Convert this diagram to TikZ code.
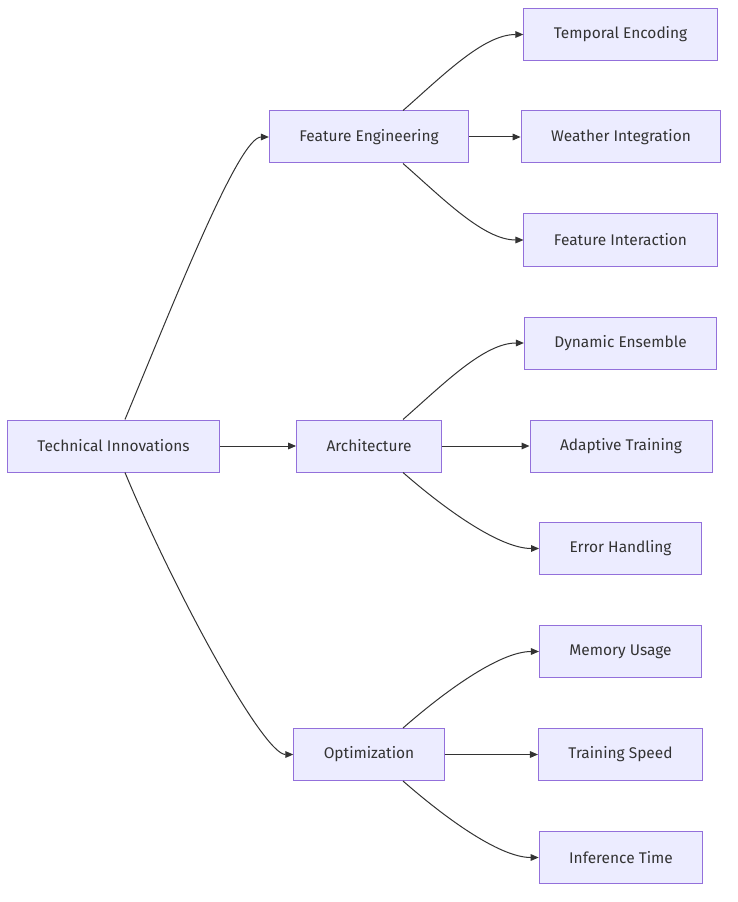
\documentclass[tikz,border=0pt]{standalone}
\usepackage{fontspec}
\setmainfont{Fira Sans}
\usetikzlibrary{arrows.meta}
\definecolor{boxfill}{HTML}{ECECFF}
\definecolor{boxline}{HTML}{9370DB}
\definecolor{linkc}{HTML}{333333}
\begin{document}
\begin{tikzpicture}[x=0.75pt,y=-0.75pt,>={Stealth[length=6pt,width=5pt,inset=0pt]},
	box/.style={draw=boxline,fill=boxfill,line width=0.75pt,minimum height=39pt,inner xsep=22.5pt,font=\fontsize{11.6}{14}\selectfont,text=linkc},
	link/.style={->,draw=linkc,line width=0.75pt}]
	\useasboundingbox (0,0) rectangle (738,902);
	% root and middle level
	\node[box] (root) at (113.5,446) {Technical Innovations};
	\node[box] (fe) at (369,137) {Feature Engineering};
	\node[box] (arch) at (369,446) {Architecture};
	\node[box] (opt) at (369,754.5) {Optimization};
	% leaves
	\node[box] (te) at (620.5,34.5) {Temporal Encoding};
	\node[box] (wi) at (621,137) {Weather Integration};
	\node[box] (fi) at (620.5,240) {Feature Interaction};
	\node[box] (de) at (620.5,343) {Dynamic Ensemble};
	\node[box] (at) at (621,446) {Adaptive Training};
	\node[box] (eh) at (620.5,548.5) {Error Handling};
	\node[box] (mu) at (620.5,651.5) {Memory Usage};
	\node[box] (ts) at (620.5,754.5) {Training Speed};
	\node[box] (it) at (621,857.5) {Inference Time};
	% links
	\draw[link] ([xshift=8.6pt]root.north) .. controls +(50,-120) and +(-30,0) .. (fe.west);
	\draw[link] (root) -- (arch);
	\draw[link] ([xshift=8.6pt]root.south) .. controls +(50,120) and +(-30,0) .. (opt.west);
	\draw[link] ([xshift=25.5pt]fe.north) .. controls +(40,-35) and +(-40,0) .. (te.west);
	\draw[link] (fe) -- (wi);
	\draw[link] ([xshift=25.5pt]fe.south) .. controls +(40,35) and +(-40,0) .. (fi.west);
	\draw[link] ([xshift=25.5pt]arch.north) .. controls +(40,-35) and +(-40,0) .. (de.west);
	\draw[link] (arch) -- (at);
	\draw[link] ([xshift=25.5pt]arch.south) .. controls +(40,35) and +(-40,0) .. (eh.west);
	\draw[link] ([xshift=25.5pt]opt.north) .. controls +(40,-35) and +(-40,0) .. (mu.west);
	\draw[link] (opt) -- (ts);
	\draw[link] ([xshift=25.5pt]opt.south) .. controls +(40,35) and +(-40,0) .. (it.west);
\end{tikzpicture}
\end{document}
